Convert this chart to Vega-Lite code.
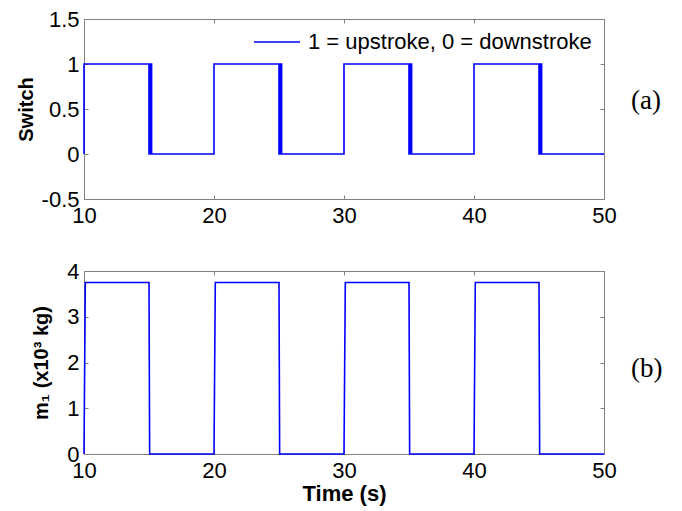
{
  "$schema": "https://vega.github.io/schema/vega-lite/v6.json",
  "background": "white",
  "padding": {"left": 15, "top": 7, "right": 5, "bottom": 5},
  "bounds": "flush",
  "spacing": 72,
  "config": {
    "view": {"stroke": "#808080", "strokeWidth": 1},
    "font": "Liberation Sans",
    "axis": {
      "grid": false, "domain": false,
      "labelFont": "Liberation Sans", "labelFontSize": 22, "labelColor": "#000000",
      "titleFont": "Liberation Sans", "titleFontSize": 20, "titleFontWeight": "bold", "titleColor": "#000000",
      "tickColor": "#808080", "tickSize": -4, "labelPadding": 9, "labelFlush": false, "labelOverlap": false
    },
    "axisX": {"labelPadding": 10},
    "legend": {
      "padding": 0,
      "symbolType": "stroke", "symbolSize": 2116, "symbolStrokeWidth": 1.6,
      "labelFont": "Liberation Sans", "labelFontSize": 22, "labelColor": "#000000",
      "labelLimit": 500, "labelOffset": 7
    }
  },
  "datasets": {
    "sw": [
      {"t": 10, "v": 0, "i": 1}, {"t": 10, "v": 1, "i": 2}, {"t": 15, "v": 1, "i": 3}, {"t": 15, "v": 0, "i": 4},
      {"t": 15.05, "v": 0, "i": 5}, {"t": 15.05, "v": 1, "i": 6}, {"t": 15.1, "v": 1, "i": 7}, {"t": 15.1, "v": 0, "i": 8},
      {"t": 15.15, "v": 0, "i": 9}, {"t": 15.15, "v": 1, "i": 10}, {"t": 15.2, "v": 1, "i": 11}, {"t": 15.2, "v": 0, "i": 12},
      {"t": 20, "v": 0, "i": 13}, {"t": 20, "v": 1, "i": 14}, {"t": 25, "v": 1, "i": 15}, {"t": 25, "v": 0, "i": 16},
      {"t": 25.05, "v": 0, "i": 17}, {"t": 25.05, "v": 1, "i": 18}, {"t": 25.1, "v": 1, "i": 19}, {"t": 25.1, "v": 0, "i": 20},
      {"t": 25.15, "v": 0, "i": 21}, {"t": 25.15, "v": 1, "i": 22}, {"t": 25.2, "v": 1, "i": 23}, {"t": 25.2, "v": 0, "i": 24},
      {"t": 30, "v": 0, "i": 25}, {"t": 30, "v": 1, "i": 26}, {"t": 35, "v": 1, "i": 27}, {"t": 35, "v": 0, "i": 28},
      {"t": 35.05, "v": 0, "i": 29}, {"t": 35.05, "v": 1, "i": 30}, {"t": 35.1, "v": 1, "i": 31}, {"t": 35.1, "v": 0, "i": 32},
      {"t": 35.15, "v": 0, "i": 33}, {"t": 35.15, "v": 1, "i": 34}, {"t": 35.2, "v": 1, "i": 35}, {"t": 35.2, "v": 0, "i": 36},
      {"t": 40, "v": 0, "i": 37}, {"t": 40, "v": 1, "i": 38}, {"t": 45, "v": 1, "i": 39}, {"t": 45, "v": 0, "i": 40},
      {"t": 45.05, "v": 0, "i": 41}, {"t": 45.05, "v": 1, "i": 42}, {"t": 45.1, "v": 1, "i": 43}, {"t": 45.1, "v": 0, "i": 44},
      {"t": 45.15, "v": 0, "i": 45}, {"t": 45.15, "v": 1, "i": 46}, {"t": 45.2, "v": 1, "i": 47}, {"t": 45.2, "v": 0, "i": 48},
      {"t": 50, "v": 0, "i": 49}
    ],
    "m": [
      {"t": 10, "v": 0}, {"t": 10.1, "v": 3.75}, {"t": 15, "v": 3.75}, {"t": 15.05, "v": 0},
      {"t": 20, "v": 0}, {"t": 20.1, "v": 3.75}, {"t": 25, "v": 3.75}, {"t": 25.05, "v": 0},
      {"t": 30, "v": 0}, {"t": 30.1, "v": 3.75}, {"t": 35, "v": 3.75}, {"t": 35.05, "v": 0},
      {"t": 40, "v": 0}, {"t": 40.1, "v": 3.75}, {"t": 45, "v": 3.75}, {"t": 45.05, "v": 0},
      {"t": 50, "v": 0}
    ]
  },
  "vconcat": [
    {
      "width": 520, "height": 180,
      "data": {"name": "sw"},
      "layer": [
        {
          "mark": {"type": "line", "strokeWidth": 1.6},
          "encoding": {
            "x": {"field": "t", "type": "quantitative", "scale": {"domain": [10, 50], "nice": false},
                  "axis": {"values": [10, 20, 30, 40, 50], "title": null}},
            "y": {"field": "v", "type": "quantitative", "scale": {"domain": [-0.5, 1.5], "nice": false},
                  "axis": {"values": [-0.5, 0, 0.5, 1, 1.5], "title": "Switch", "titlePadding": 5,
                           "format": "~g", "labelExpr": "replace(datum.label, '−', '-')"}},
            "order": {"field": "i", "type": "quantitative"},
            "color": {"datum": "1 = upstroke, 0 = downstroke", "type": "nominal",
                      "scale": {"range": ["#0000ff"]},
                      "legend": {"title": null, "orient": "none", "legendX": 169, "legendY": -1}}
          }
        },
        {
          "mark": {"type": "line", "strokeOpacity": 0},
          "encoding": {
            "x": {"field": "t", "type": "quantitative", "scale": {"domain": [10, 50], "nice": false},
                  "axis": {"orient": "top", "values": [10, 20, 30, 40, 50], "labels": false, "title": null}},
            "y": {"field": "v", "type": "quantitative", "scale": {"domain": [-0.5, 1.5], "nice": false},
                  "axis": {"orient": "right", "values": [-0.5, 0, 0.5, 1, 1.5], "labels": false,
                           "title": "(a)", "titleAngle": 0, "titleAlign": "left", "titleBaseline": "middle",
                           "titleFont": "Liberation Serif", "titleFontSize": 27, "titleFontWeight": "normal",
                           "titlePadding": 26, "titleY": 81}}
          }
        }
      ],
      "resolve": {"axis": {"x": "independent", "y": "independent"}}
    },
    {
      "width": 520, "height": 183,
      "data": {"name": "m"},
      "layer": [
        {
          "mark": {"type": "line", "strokeWidth": 1.6, "color": "#0000ff"},
          "encoding": {
            "x": {"field": "t", "type": "quantitative", "scale": {"domain": [10, 50], "nice": false},
                  "axis": {"values": [10, 20, 30, 40, 50], "title": "Time (s)", "titlePadding": 2, "titleFontSize": 22}},
            "y": {"field": "v", "type": "quantitative", "scale": {"domain": [0, 4], "nice": false},
                  "axis": {"values": [0, 1, 2, 3, 4], "title": "m₁ (x10³ kg)", "titlePadding": 15}}
          }
        },
        {
          "mark": {"type": "line", "strokeOpacity": 0},
          "encoding": {
            "x": {"field": "t", "type": "quantitative", "scale": {"domain": [10, 50], "nice": false},
                  "axis": {"orient": "top", "values": [10, 20, 30, 40, 50], "labels": false, "title": null}},
            "y": {"field": "v", "type": "quantitative", "scale": {"domain": [0, 4], "nice": false},
                  "axis": {"orient": "right", "values": [0, 1, 2, 3, 4], "labels": false,
                           "title": "(b)", "titleAngle": 0, "titleAlign": "left", "titleBaseline": "middle",
                           "titleFont": "Liberation Serif", "titleFontSize": 27, "titleFontWeight": "normal",
                           "titlePadding": 26, "titleY": 97}}
          }
        }
      ],
      "resolve": {"axis": {"x": "independent", "y": "independent"}}
    }
  ]
}
